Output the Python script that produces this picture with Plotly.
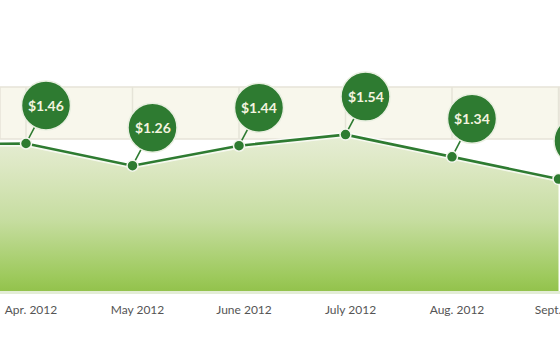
import plotly.graph_objects as go

# ---- data ----
months = ["Mar. 2012", "Apr. 2012", "May 2012", "June 2012",
          "July 2012", "Aug. 2012", "Sept. 2012"]
prices = [1.45, 1.46, 1.26, 1.44, 1.54, 1.34, 1.14]
price_labels = ["$%.2f" % p for p in prices]

# ---- styling ----
DARK = "#2e7b31"
TEXT = "#f3f3df"
BAND_LO, BAND_HI = 1.50, 1.97
Y_MIN, Y_MAX = 0.131, 2.753
BUB_DX, BUB_DY, BUB_R = 20, 38, 24.5

idx = list(range(len(months)))

fig = go.Figure()

# gradient area
fig.add_trace(go.Scatter(
    x=idx, y=prices, mode="lines", line=dict(width=0, color=DARK),
    fill="tozeroy",
    fillgradient=dict(type="vertical",
                      colorscale=[[0, "#93c24c"], [0.08, "#9cc95a"],
                                  [0.45, "#c6dda0"], [0.8, "#dde8c4"],
                                  [1, "#e7eed6"]],
                      start=Y_MIN, stop=1.55),
    hoverinfo="skip", showlegend=False))

# light halo under the line
fig.add_trace(go.Scatter(
    x=idx, y=prices, mode="lines",
    line=dict(width=6, color="rgba(255,255,255,0.7)"),
    hoverinfo="skip", showlegend=False))

# main line + markers
fig.add_trace(go.Scatter(
    x=idx, y=prices, mode="lines+markers",
    line=dict(width=2.6, color=DARK),
    marker=dict(size=11, color=DARK, line=dict(width=1.5, color="#f4f6ee")),
    showlegend=False))

shapes = []
# beige band
shapes.append(dict(type="rect", xref="paper", yref="y", x0=0, x1=1,
                   y0=BAND_LO, y1=BAND_HI, fillcolor="#f8f7ec",
                   line=dict(color="#e6e4d8", width=1.5), layer="below"))
# vertical gridlines in band
for i in idx:
    shapes.append(dict(type="line", xref="x", yref="y", x0=i, x1=i,
                       y0=BAND_LO, y1=BAND_HI,
                       line=dict(color="#e6e4d8", width=1.5), layer="below"))
# connectors
L = (BUB_DX ** 2 + BUB_DY ** 2) ** 0.5
for i, p in zip(idx, prices):
    shapes.append(dict(type="line", xref="x", yref="y",
                       xsizemode="pixel", ysizemode="pixel",
                       xanchor=i, yanchor=p,
                       x0=0, y0=0, x1=BUB_DX * (L - BUB_R + 2) / L,
                       y1=BUB_DY * (L - BUB_R + 2) / L,
                       line=dict(color=DARK, width=1.6), layer="below"))
# bubbles
for i, p in zip(idx, prices):
    shapes.append(dict(type="circle", xref="x", yref="y",
                       xsizemode="pixel", ysizemode="pixel",
                       xanchor=i, yanchor=p,
                       x0=BUB_DX - BUB_R, x1=BUB_DX + BUB_R,
                       y0=BUB_DY - BUB_R, y1=BUB_DY + BUB_R,
                       fillcolor=DARK, line=dict(color="#e9efe0", width=1.5),
                       layer="above"))

annotations = []
for i, p, lab in zip(idx, prices, price_labels):
    annotations.append(dict(x=i, y=p, xref="x", yref="y", text=lab,
                            showarrow=False, xshift=BUB_DX, yshift=BUB_DY,
                            font=dict(family="Lato", size=14, color=TEXT,
                                      weight="bold")))

fig.update_layout(
    width=560, height=350,
    margin=dict(l=0, r=0, t=0, b=59, autoexpand=False),
    paper_bgcolor="white", plot_bgcolor="white",
    shapes=shapes, annotations=annotations,
    xaxis=dict(range=[0.7559, 6.014], tickvals=idx, ticktext=months,
               automargin=False,
               showgrid=False, zeroline=False, showline=True,
               linecolor="#e3edd6", linewidth=3,
               ticks="", ticklabelshift=5, ticklabelstandoff=6,
               ticklabeloverflow="allow",
               tickfont=dict(family="Lato", size=12, color="#555555")),
    yaxis=dict(range=[Y_MIN, Y_MAX], visible=False, showgrid=False,
               zeroline=False, automargin=False),
)

fig.write_html("out.html")
